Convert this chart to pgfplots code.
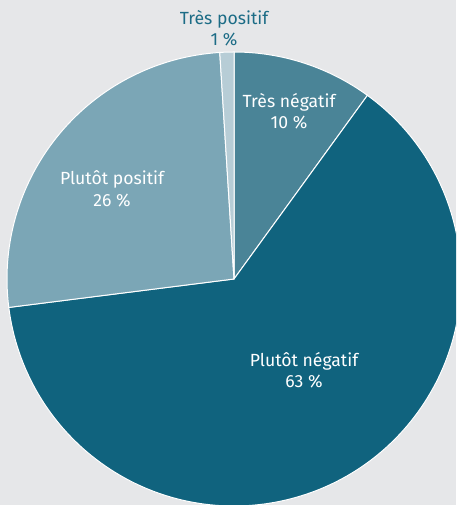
\documentclass[border=0pt]{standalone}
\usepackage{pgfplots}
\pgfplotsset{compat=1.18}
\usepackage{fontspec}
\setmainfont{Fira Sans}
\definecolor{bg}{HTML}{E6E7E9}
\definecolor{c1}{HTML}{4A8497}
\definecolor{c2}{HTML}{10637E}
\definecolor{c3}{HTML}{7BA6B6}
\definecolor{c4}{HTML}{B7CDD6}
\definecolor{lab}{HTML}{1C6C86}
\begin{document}
\begin{tikzpicture}
\fill[bg] (0,0) rectangle (456pt,505pt);
\begin{axis}[
  at={(0,0)}, anchor=south west,
  scale only axis, width=456pt, height=505pt,
  xmin=0, xmax=456, ymin=0, ymax=505,
  hide axis, clip=true,
]
% shares (%): Tres negatif 10, Plutot negatif 63, Plutot positif 26, Tres positif 1
% angles: 90 - 3.6 * cumulative share
\def\cx{234}\def\cy{226}\def\R{227pt}
\fill[c1, draw=white, line width=1pt] (axis cs:\cx,\cy) -- ++(90:\R) arc[start angle=90, end angle=54, radius=\R] -- cycle;
\fill[c2, draw=white, line width=1pt] (axis cs:\cx,\cy) -- ++(54:\R) arc[start angle=54, end angle=-172.8, radius=\R] -- cycle;
\fill[c3, draw=white, line width=1pt] (axis cs:\cx,\cy) -- ++(-172.8:\R) arc[start angle=-172.8, end angle=-266.4, radius=\R] -- cycle;
\fill[c4, draw=white, line width=1pt] (axis cs:\cx,\cy) -- ++(-266.4:\R) arc[start angle=-266.4, end angle=-270, radius=\R] -- cycle;
\tikzset{lbl/.style={align=center, font=\fontsize{17.6}{21.5}\selectfont, inner sep=0pt}}
\node[lbl, white] at (axis cs:289,394) {Très négatif\\10~\%};
\node[lbl, white] at (axis cs:304,135) {Plutôt négatif\\63~\%};
\node[lbl, white] at (axis cs:112,316) {Plutôt positif\\26~\%};
\node[lbl, lab] at (axis cs:224,477) {Très positif\\1~\%};
\end{axis}
\end{tikzpicture}
\end{document}
